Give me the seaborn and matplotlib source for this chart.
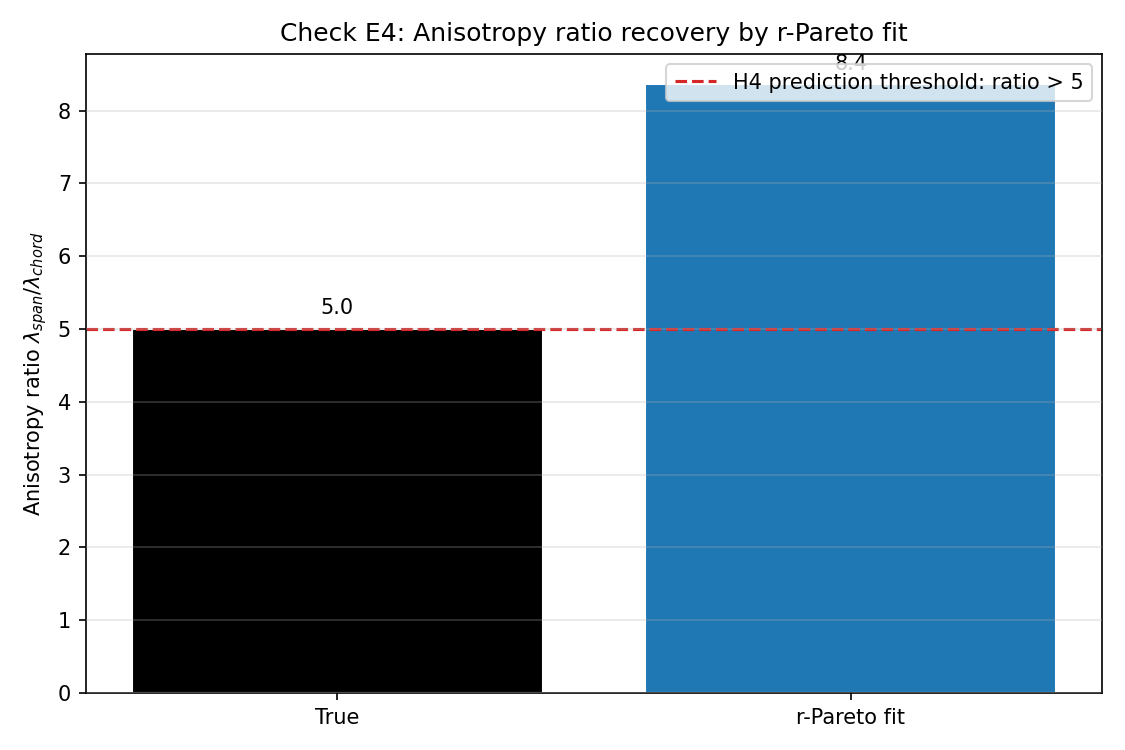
import matplotlib
matplotlib.use("Agg")
import matplotlib.pyplot as plt
import pandas as pd
import seaborn as sns

# Data
labels = ['True', 'r-Pareto fit']
ratios = [5.0, 8.36]
bar_colors = ['black', '#1f77b4']
threshold = 5

df = pd.DataFrame({'label': labels, 'ratio': ratios})

sns.set_style("white", rc={
    'text.color': 'black',
    'axes.labelcolor': 'black',
    'xtick.color': 'black',
    'ytick.color': 'black',
    'axes.edgecolor': 'black',
    'grid.color': '#b0b0b0',
})
plt.rcParams['font.family'] = ['DejaVu Sans']

fig, ax = plt.subplots(figsize=(7.5, 5), dpi=150)

sns.barplot(data=df, x='label', y='ratio', hue='label', palette=bar_colors,
            width=0.8, saturation=1, legend=False, ax=ax)

# Value labels above the bars
for i, v in enumerate(ratios):
    ax.text(i, v + 0.15, f'{v:.1f}', ha='center', va='bottom', fontsize=10)

ax.axhline(threshold, color='#d62728', linestyle='--', linewidth=1.5,
           label=f'H4 prediction threshold: ratio > {threshold}')

ax.set_xlim(-0.49, 1.49)
ax.set_ylim(0, max(ratios) * 1.05)
ax.set_xlabel('')
ax.set_ylabel(r'Anisotropy ratio $\lambda_{span}/\lambda_{chord}$')
ax.set_title('Check E4: Anisotropy ratio recovery by r-Pareto fit')
ax.grid(axis='y', alpha=0.3, linewidth=0.8)
ax.set_axisbelow(False)
ax.legend(loc='upper right')

for spine in ax.spines.values():
    spine.set_visible(True)
    spine.set_color('black')
    spine.set_linewidth(0.8)
ax.tick_params(axis='both', which='both', length=3.5, width=0.8, direction='out', bottom=True, left=True)

plt.tight_layout()
plt.savefig('out.png', dpi=150)
plt.close()
